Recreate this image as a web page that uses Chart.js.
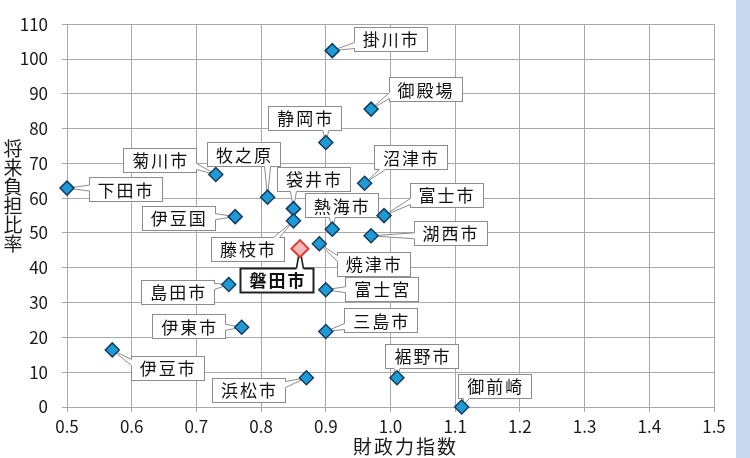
<!DOCTYPE html>
<html lang="ja">
<head>
<meta charset="utf-8">
<title>財政力指数と将来負担比率</title>
<script src="https://cdn.jsdelivr.net/npm/chart.js@4.4.1/dist/chart.umd.min.js"></script>
<style>
  html, body { margin: 0; padding: 0; background: #ffffff; }
  #wrap { position: relative; width: 750px; height: 458px; }
</style>
</head>
<body>
<div id="wrap"><canvas id="chart" width="750" height="458"></canvas></div>
<script>
// 市町ごとの財政力指数（x）と将来負担比率（y, %）
const cities = [
  '掛川市', '御殿場', '静岡市', '沼津市', '菊川市', '牧之原', '下田市', '袋井市',
  '伊豆国', '富士市', '藤枝市', '熱海市', '湖西市', '焼津市', '磐田市', '富士宮',
  '島田市', '伊東市', '三島市', '伊豆市', '浜松市', '裾野市', '御前崎'
];
const fiscalIndex = [
  0.91, 0.97, 0.90, 0.96, 0.73, 0.81, 0.50, 0.85,
  0.76, 0.99, 0.85, 0.91, 0.97, 0.89, 0.86, 0.90,
  0.75, 0.77, 0.90, 0.57, 0.87, 1.01, 1.11
];
const debtRatio = [
  102.4, 85.6, 76.0, 64.3, 66.8, 60.3, 62.9, 57.0,
  54.7, 55.0, 53.5, 51.1, 49.2, 46.9, 45.5, 33.7,
  35.2, 22.9, 21.7, 16.4, 8.4, 8.4, 0.0
];
const highlightCity = '磐田市';

// 軸の目盛り
const xTicks = [0.5, 0.6, 0.7, 0.8, 0.9, 1.0, 1.1, 1.2, 1.3, 1.4, 1.5];
const yTicks = [0, 10, 20, 30, 40, 50, 60, 70, 80, 90, 100, 110];
const xTitle = '財政力指数';
const yTitle = '将来負担比率';

// 吹き出しの位置（点からのずれ, px）
const calloutOffsets = {
  '掛川市': [58, -12], '御殿場': [54, -20], '静岡市': [-21, -25], '沼津市': [46, -26],
  '菊川市': [-56, -15], '牧之原': [-24, -43], '下田市': [58, 1],   '袋井市': [20, -30],
  '伊豆国': [-57, 1],   '富士市': [62, -21], '藤枝市': [-46, 28], '熱海市': [9, -24],
  '湖西市': [79, -3],   '焼津市': [54, 20],  '磐田市': [-23, 31], '富士宮': [56, -1],
  '島田市': [-51, 7],   '伊東市': [-53, -1], '三島市': [55, -11], '伊豆市': [55, 18],
  '浜松市': [-58, 12],  '裾野市': [25, -22], '御前崎': [33, -21]
};

const FONT = '"Noto Sans CJK JP", "Noto Sans CJK SC", sans-serif';
Chart.defaults.font.family = FONT;
Chart.defaults.color = '#1a1a1a';

const basePoints = [];
const highlightPoints = [];
cities.forEach((c, i) => {
  const p = { x: fiscalIndex[i], y: debtRatio[i], name: c };
  (c === highlightCity ? highlightPoints : basePoints).push(p);
});

const clamp = (v, a, b) => Math.max(a, Math.min(b, v));

// 右端の帯
const backdrop = {
  id: 'backdrop',
  beforeDraw(chart) {
    const ctx = chart.ctx;
    ctx.save();
    ctx.fillStyle = '#ffffff';
    ctx.fillRect(0, 0, chart.width, chart.height);
    ctx.fillStyle = '#c8d8ef';
    ctx.fillRect(736, 0, chart.width - 736, chart.height);
    ctx.restore();
  }
};

// 吹き出しラベル
const callouts = {
  id: 'callouts',
  beforeDatasetsDraw(chart) {
    const ctx = chart.ctx;
    const xs = chart.scales.x, ys = chart.scales.y;
    cities.forEach((name, i) => {
      const px = xs.getPixelForValue(fiscalIndex[i]);
      const py = ys.getPixelForValue(debtRatio[i]);
      const off = calloutOffsets[name];
      const hl = name === highlightCity;
      const w = 73, h = 24;
      const cx = px + off[0], cy = py + off[1];
      const L = Math.round(cx - w / 2) + 0.5, T = Math.round(cy - h / 2) + 0.5;
      const R = L + w, B = T + h;

      ctx.save();
      ctx.fillStyle = '#ffffff';
      ctx.fillRect(L, T, w, h);
      ctx.strokeStyle = hl ? '#222222' : '#8c8c8c';
      ctx.lineWidth = hl ? 2 : 1;
      ctx.strokeRect(L, T, w, h);

      // 引き出し線（くさび形）
      const gx = px < L ? L - px : (px > R ? px - R : 0);
      const gy = py < T ? T - py : (py > B ? py - B : 0);
      let ax, ay, ux, uy, nx, ny;
      if (gx >= gy) {
        ax = px < L ? L : R; ay = clamp(py, T + 6, B - 6);
        ux = 0; uy = 1; nx = px < L ? 1 : -1; ny = 0;
      } else {
        ay = py < T ? T : B; ax = clamp(px, L + 8, R - 8);
        ux = 1; uy = 0; nx = 0; ny = py < T ? 1 : -1;
      }
      const hw = hl ? 3.5 : 3;
      const in1 = hl ? 2 : 1.2;
      ctx.beginPath();
      ctx.moveTo(ax - ux * hw + nx * in1, ay - uy * hw + ny * in1);
      ctx.lineTo(ax - ux * hw, ay - uy * hw);
      ctx.lineTo(px, py);
      ctx.lineTo(ax + ux * hw, ay + uy * hw);
      ctx.lineTo(ax + ux * hw + nx * in1, ay + uy * hw + ny * in1);
      ctx.closePath();
      ctx.fill();
      ctx.beginPath();
      ctx.moveTo(ax - ux * hw, ay - uy * hw);
      ctx.lineTo(px, py);
      ctx.lineTo(ax + ux * hw, ay + uy * hw);
      ctx.lineWidth = hl ? 1.6 : 1;
      ctx.stroke();

      ctx.fillStyle = '#111111';
      ctx.font = (hl ? 'bold ' : '') + '17px ' + FONT;
      ctx.letterSpacing = '2px';
      ctx.textAlign = 'center';
      ctx.textBaseline = 'middle';
      ctx.fillText(name, cx + 1, cy + 1);
      ctx.restore();
    });
  }
};

// 軸タイトル（縦書き・横書き）
const axisTitles = {
  id: 'axisTitles',
  afterDraw(chart) {
    const ctx = chart.ctx;
    const a = chart.chartArea;
    ctx.save();
    ctx.fillStyle = '#1a1a1a';
    ctx.textAlign = 'center';
    ctx.textBaseline = 'middle';
    ctx.font = '19px ' + FONT;
    ctx.letterSpacing = '2px';
    ctx.fillText(xTitle, (a.left + a.right) / 2 + 15, 447);
    ctx.letterSpacing = '0px';
    ctx.font = '19px ' + FONT;
    const chars = Array.from(yTitle);
    const step = 19;
    const y0 = 149;
    chars.forEach((ch, k) => ctx.fillText(ch, 13, y0 + k * step));
    ctx.restore();
  }
};

new Chart(document.getElementById('chart'), {
  type: 'scatter',
  data: {
    datasets: [
      {
        label: '市町',
        data: basePoints,
        clip: false,
        pointStyle: 'rectRot',
        pointRadius: 7,
        pointHoverRadius: 7,
        backgroundColor: '#1e9ad6',
        borderColor: '#163a5c',
        borderWidth: 1.5
      },
      {
        label: highlightCity,
        data: highlightPoints,
        clip: false,
        pointStyle: 'rectRot',
        pointRadius: 8.5,
        pointHoverRadius: 8.5,
        backgroundColor: '#f2b8b8',
        borderColor: '#e5372e',
        borderWidth: 2
      }
    ]
  },
  options: {
    responsive: false,
    animation: false,
    events: [],
    layout: { padding: { left: 0, right: 36, top: 15, bottom: 0 } },
    plugins: {
      legend: { display: false },
      tooltip: { enabled: false }
    },
    scales: {
      x: {
        type: 'linear',
        min: xTicks[0],
        max: xTicks[xTicks.length - 1],
        afterFit(s) { s.height = 51; },
        afterBuildTicks(s) { s.ticks = xTicks.map(v => ({ value: v })); },
        ticks: {
          padding: 4,
          font: { size: 17 },
          color: '#1a1a1a',
          callback: v => Number(v).toFixed(1)
        },
        grid: { color: '#a8a8a8', lineWidth: 1, tickLength: 5 },
        border: { color: '#a8a8a8' }
      },
      y: {
        type: 'linear',
        min: yTicks[0],
        max: yTicks[yTicks.length - 1],
        afterFit(s) { s.width = 67; },
        afterBuildTicks(s) { s.ticks = yTicks.map(v => ({ value: v })); },
        ticks: {
          padding: 14,
          font: { size: 17 },
          color: '#1a1a1a'
        },
        grid: { color: '#a8a8a8', lineWidth: 1, tickLength: 5 },
        border: { color: '#a8a8a8' }
      }
    }
  },
  plugins: [backdrop, callouts, axisTitles]
});
</script>
</body>
</html>
